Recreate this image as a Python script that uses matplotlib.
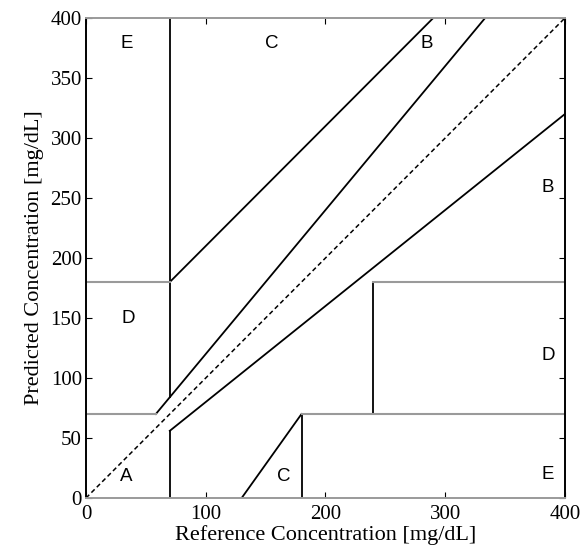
import matplotlib
matplotlib.use("Agg")
import matplotlib.pyplot as plt

# Clarke error grid zone boundaries (x pairs, y pairs)
black_x = [
    [70, 70],
    [175 / 3, 400 / 1.2],
    [70, 290],
    [70, 70],
    [70, 400],
    [180, 180],
    [240, 240],
    [130, 180],
]
black_y = [
    [84, 400],
    [70, 400],
    [180, 400],
    [0, 56],
    [56, 320],
    [0, 70],
    [70, 180],
    [0, 70],
]
gray_x = [[0, 175 / 3], [0, 70], [180, 400], [240, 400]]
gray_y = [[70, 70], [180, 180], [70, 70], [180, 180]]

zone_labels = ["E", "C", "B", "B", "D", "D", "A", "C", "E"]
zone_x = [34, 155, 285, 386, 35, 386, 34, 165, 386]
zone_y = [379, 379, 379, 259, 150, 119, 18, 18, 20]

x_ticks = [0, 100, 200, 300, 400]
y_ticks = [0, 50, 100, 150, 200, 250, 300, 350, 400]

fig = plt.figure(figsize=(5.83, 5.58), dpi=100)
ax = fig.add_axes([0.1475, 0.1075, 0.8215, 0.8602])

ax.plot([0, 400], [0, 400], color="black", linestyle=(0, (3, 2)), linewidth=1.1)
for xs, ys in zip(black_x, black_y):
    ax.plot(xs, ys, color="black", linewidth=1.3)
for xs, ys in zip(gray_x, gray_y):
    ax.plot(xs, ys, color="#9a9a9a", linewidth=1.5)

for label, x, y in zip(zone_labels, zone_x, zone_y):
    ax.text(x, y, label, ha="center", va="center", fontsize=13.5,
            family="Liberation Sans")

ax.set_xlim(0, 400)
ax.set_ylim(0, 400)
ax.set_xticks(x_ticks)
ax.set_yticks(y_ticks)
ax.tick_params(direction="in", top=True, right=True, length=4, labelsize=15)
ax.tick_params(axis="x", pad=5)
ax.tick_params(axis="y", pad=3)
for lbl in ax.get_xticklabels() + ax.get_yticklabels():
    lbl.set_family("Liberation Serif")

ax.spines["left"].set_color("black")
ax.spines["right"].set_color("black")
ax.spines["top"].set_color("#9a9a9a")
ax.spines["bottom"].set_color("#9a9a9a")
for s in ax.spines.values():
    s.set_linewidth(1.4)

ax.set_xlabel("Reference Concentration [mg/dL]", family="Liberation Serif",
              fontsize=16, labelpad=1)
ax.set_ylabel("Predicted Concentration [mg/dL]", family="Liberation Serif",
              fontsize=16, labelpad=5)

fig.savefig("out.png", dpi=100)
